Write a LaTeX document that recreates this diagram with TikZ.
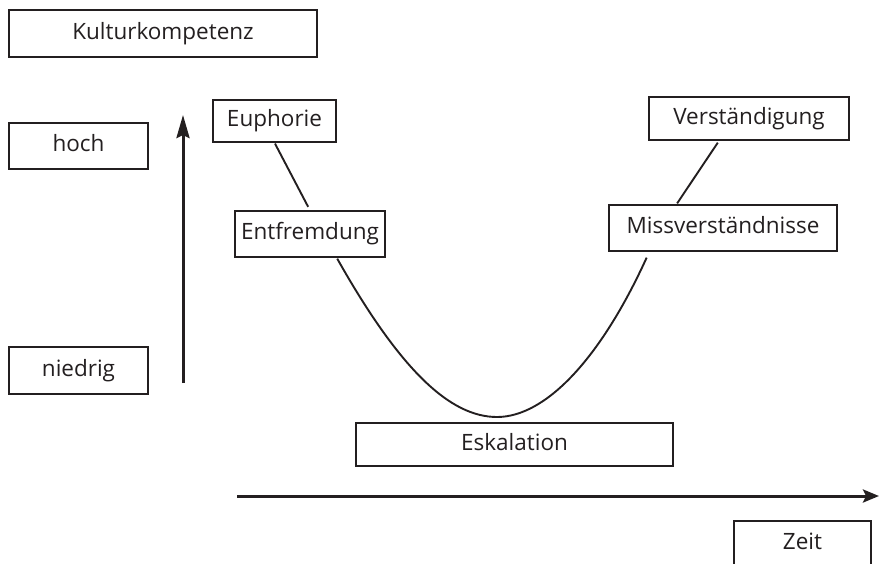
\documentclass[tikz,border=0pt]{standalone}
\usepackage{fontspec}
\setmainfont{Open Sans}
\usetikzlibrary{arrows.meta,calc}
\definecolor{ink}{HTML}{231F20}
\tikzset{
  box/.style={draw=ink, line width=1.3pt, rectangle, inner sep=0pt, text=ink,
    font=\fontsize{22.5}{27}\selectfont, text height=15pt, text depth=4pt},
  axis/.style={draw=ink, line width=3pt},
  link/.style={draw=ink, line width=1.9pt}
}
\begin{document}
\begin{tikzpicture}[x=1pt,y=-1pt]
\useasboundingbox (0,0) rectangle (880,563);
\clip (0,0) rectangle (880,563);
\node[box, minimum width=308pt, minimum height=47pt] (kult) at (163,33.5) {Kulturkompetenz};
\node[box, minimum width=139pt, minimum height=46pt] (hoch) at (78.5,146) {hoch};
\node[box, minimum width=139pt, minimum height=47pt] (nied) at (78.5,370.5) {niedrig};
\node[box, minimum width=123pt, minimum height=42pt] (euph) at (274.5,121) {Euphorie};
\node[box, minimum width=150pt, minimum height=46pt] (entf) at (310,234) {Entfremdung};
\node[box, minimum width=200pt, minimum height=43pt] (verst) at (749,118.5) {Verständigung};
\node[box, minimum width=228pt, minimum height=46pt] (missv) at (723,228) {Missverständnisse};
\node[box, minimum width=317pt, minimum height=43pt] (eskal) at (514.5,444.5) {Eskalation};
\node[box, minimum width=137pt, minimum height=46pt] (zeit) at (802.5,544) {Zeit};

\coordinate (ybot) at (183,383);
\coordinate (ytop) at (183,115);
\coordinate (xl) at (237,496);
\coordinate (xr) at (879,496);
\draw[axis, -{Stealth[length=23pt,width=13pt,inset=3pt]}] (ybot) -- (ytop);
\draw[axis, -{Stealth[length=16pt,width=13pt,inset=3pt]}] (xl) -- (xr);

\draw[link, shorten <=1pt, shorten >=4pt] (euph.south) -- (entf.north);
\coordinate (cs) at ($(entf.south west)!0.68!(entf.south east)+(0,1)$);
\coordinate (ce) at ($(missv.south west)!0.167!(missv.south east)+(0,6)$);
\coordinate (cb) at (497,417);
\draw[link] (cs) .. controls (400,370) and (450,417) .. (cb)
            .. controls (545,417) and (600,360) .. (ce);
\draw[link] ($(missv.north west)!0.30!(missv.north east)+(0,-1)$) -- ($(verst.south west)!0.345!(verst.south east)+(0,2)$);
\end{tikzpicture}
\end{document}
